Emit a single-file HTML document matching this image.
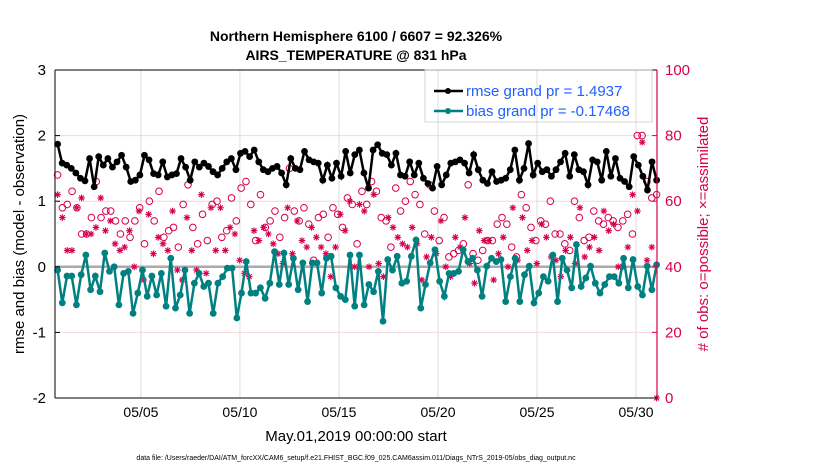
<!DOCTYPE html>
<html><head><meta charset="utf-8"><style>
body{margin:0;background:#fff;font-family:"Liberation Sans",sans-serif}
svg text{font-family:"Liberation Sans",sans-serif}
</style></head><body>
<svg id="c" width="830" height="470" viewBox="0 0 830 470" xmlns="http://www.w3.org/2000/svg">
<text x="356" y="41" text-anchor="middle" font-size="14" font-weight="bold">Northern Hemisphere 6100 / 6607 = 92.326%</text>
<text x="356" y="60" text-anchor="middle" font-size="14" font-weight="bold">AIRS_TEMPERATURE @ 831 hPa</text>
<g id="grid"></g>
<g id="marks"></g>
<g id="axes"></g>
<text x="356" y="441" text-anchor="middle" font-size="15">May.01,2019 00:00:00 start</text>
<text transform="translate(24,234) rotate(-90)" text-anchor="middle" font-size="15">rmse and bias (model - observation)</text>
<text transform="translate(708,234) rotate(-90)" text-anchor="middle" font-size="15" fill="#d6004f"># of obs: o=possible; ×=assimilated</text>
<text x="356" y="460" text-anchor="middle" font-size="7">data file: /Users/raeder/DAI/ATM_forcXX/CAM6_setup/f.e21.FHIST_BGC.f09_025.CAM6assim.011/Diags_NTrS_2019-05/obs_diag_output.nc</text>
<g>
<rect x="425" y="70" width="227" height="52" fill="none" stroke="#ccc" stroke-width="0.8"/>
<line x1="434" y1="91" x2="463" y2="91" stroke="#000" stroke-width="2.5"/>
<circle cx="448" cy="91" r="3" fill="#000"/>
<text x="466" y="96" font-size="15" fill="#1f5fff">rmse grand pr = 1.4937</text>
<line x1="434" y1="111" x2="463" y2="111" stroke="#008080" stroke-width="2.5"/>
<circle cx="448" cy="111" r="3" fill="#008080"/>
<text x="466" y="116" font-size="15" fill="#1f5fff">bias grand pr = -0.17468</text>
</g>
</svg>
<script>
const rmse=[1.87,1.58,1.55,1.50,1.43,1.35,1.31,1.65,1.22,1.68,1.55,1.65,1.52,1.60,1.70,1.52,1.30,1.32,1.40,1.70,1.63,1.42,1.40,1.60,1.37,1.40,1.42,1.65,1.52,1.32,1.60,1.52,
1.58,1.53,1.45,1.40,1.50,1.60,1.65,1.48,1.73,1.76,1.68,1.78,1.60,1.48,1.45,1.50,1.53,1.43,1.25,1.65,1.50,1.48,1.76,1.63,1.60,1.58,1.32,1.55,1.35,1.58,1.38,1.76,
1.43,1.71,1.78,1.43,1.20,1.78,1.86,1.73,1.71,1.55,1.73,1.40,1.38,1.60,1.40,1.58,1.35,1.27,1.20,1.53,1.25,1.40,1.58,1.60,1.63,1.58,1.43,1.71,1.48,1.32,1.27,1.45,1.30,1.32,1.35,1.48,1.78,
1.32,1.50,1.88,1.40,1.58,1.45,1.48,1.38,1.48,1.60,1.73,1.38,1.71,1.48,1.45,1.25,1.63,1.60,1.32,1.76,1.38,1.65,1.35,1.30,1.22,1.68,1.55,1.38,1.17,1.60,1.32];
const bias=[-0.05,-0.55,-0.14,-0.14,-0.58,-0.12,0.18,-0.35,-0.14,-0.38,0.21,-0.07,0.00,-0.58,-0.10,-0.07,-0.71,-0.40,-0.05,-0.45,-0.14,-0.43,-0.10,-0.60,0.13,-0.63,-0.43,-0.05,-0.71,-0.25,-0.10,-0.30,
-0.25,-0.71,-0.25,-0.15,-0.02,-0.02,-0.78,-0.40,0.08,-0.40,-0.40,-0.32,-0.48,-0.25,0.23,-0.27,0.21,-0.27,0.13,-0.35,0.06,-0.53,0.06,0.06,-0.40,0.13,0.16,-0.32,-0.45,-0.50,0.18,-0.60,
0.18,-0.58,-0.27,-0.38,-0.07,-0.83,0.11,-0.05,0.16,-0.25,-0.22,0.16,0.41,-0.63,-0.27,0.06,0.26,-0.22,-0.45,-0.10,-0.10,-0.07,0.26,0.08,0.13,-0.05,-0.45,0.01,0.13,0.08,0.11,-0.53,-0.15,
0.13,-0.53,-0.12,0.01,-0.55,-0.40,-0.15,-0.22,0.18,-0.53,0.13,-0.05,-0.32,0.34,-0.30,-0.17,0.01,-0.25,-0.40,-0.27,-0.15,-0.15,-0.25,0.13,-0.32,0.11,-0.30,-0.43,0.01,-0.35,0.03];
const possible=[68,58,59,63,58,50,50,55,66,55,57,57,54,50,54,49,54,58,47,60,54,63,49,51,52,46,59,65,52,47,56,48,
59,60,49,51,61,54,64,66,59,48,62,52,54,57,49,55,70,57,54,58,53,42,55,56,49,58,56,52,61,59,47,63,
59,66,63,55,54,46,64,57,60,66,62,59,50,65,57,48,55,43,44,45,47,65,44,42,45,48,48,53,55,53,46,43,62,
58,52,48,54,53,60,50,50,47,45,60,55,48,49,57,54,53,55,54,52,54,56,50,80,80,66,61,62];
const assim=[62,55,45,45,58,61,50,50,52,61,51,54,47,45,46,51,40,57,36,56,44,49,47,45,57,39,36,55,45,39,62,38,
58,45,58,45,52,50,42,38,37,51,48,52,50,47,44,41,58,44,54,48,46,52,49,46,44,37,46,56,51,60,40,59,
57,40,62,41,37,55,52,49,47,46,52,47,36,43,49,44,54,40,37,49,46,55,41,35,51,48,48,36,44,49,40,58,42,
55,45,48,41,53,49,43,42,37,45,49,41,58,43,46,49,45,57,51,53,40,40,46,62,57,78,42,46,0];
const xTickLabels=["05/05","05/10","05/15","05/20","05/25","05/30"];
const xTickDays=[4,9,14,19,24,29];
const yLeftTicks=[-2,-1,0,1,2,3];
const yRightTicks=[0,20,40,60,80,100];

const L=55,R=657,T=70,B=398;
const dayStart=-0.34,dayEnd=30.06;
const xs=d=>L+(d-dayStart)/(dayEnd-dayStart)*(R-L);
const yl=v=>B-(v+2)/5*(B-T);
const yr=v=>B-v/100*(B-T);
const NS="http://www.w3.org/2000/svg";
function mk(tag,attrs,parent){const e=document.createElementNS(NS,tag);for(const k in attrs)e.setAttribute(k,attrs[k]);parent.appendChild(e);return e;}
const grid=document.getElementById('grid'),marks=document.getElementById('marks'),axes=document.getElementById('axes');
const firstDay=-0.21,lastDay=30.04;
const tOf=(i,n)=>firstDay+(lastDay-firstDay)*i/(n-1);

xTickDays.forEach((d,i)=>{
  const g=mk('line',{x1:xs(d),x2:xs(d),y1:T,y2:B,stroke:'#ddd','stroke-width':1},grid);
  
  
  const t=mk('text',{x:xs(d),y:B+19,'text-anchor':'middle','font-size':14},axes);
  t.textContent=xTickLabels[i];
  
  
});
yRightTicks.forEach(v=>{
  if(v>0&&v<100){const g=mk('line',{x1:L,x2:R,y1:yr(v),y2:yr(v),stroke:'#f2d6e0','stroke-width':1},grid);
  
  }
  const t=mk('text',{x:R+8,y:yr(v)+5,'font-size':15,fill:'#d6004f'},axes);
  t.textContent=v;
  
  
  mk('line',{x1:R-5,x2:R,y1:yr(v),y2:yr(v),stroke:'#d6004f'},axes);
});
yLeftTicks.forEach(v=>{
  const t=mk('text',{x:L-9,y:yl(v)+5,'text-anchor':'end','font-size':15},axes);
  t.textContent=v;
  
  
  mk('line',{x1:L,x2:L+5,y1:yl(v),y2:yl(v),stroke:'#000'},axes);
});
const z=mk('line',{x1:L,x2:R,y1:yl(0),y2:yl(0),stroke:'#aaa','stroke-width':2.5},grid);



possible.forEach((v,i)=>{
  const c=mk('circle',{cx:xs(tOf(i,possible.length)),cy:yr(v),r:3.3,fill:'none',stroke:'#d6004f','stroke-width':1},marks);
  
  
});
assim.forEach((v,i)=>{
  const cx=xs(tOf(i,assim.length)),cy=yr(v),s=3.3,d=2.4;
  const p=mk('path',{d:`M${cx-s},${cy}H${cx+s}M${cx},${cy-s}V${cy+s}M${cx-d},${cy-d}L${cx+d},${cy+d}M${cx-d},${cy+d}L${cx+d},${cy-d}`,stroke:'#d6004f','stroke-width':1.1,fill:'none'},marks);
  
  
});
function series(arr,col,name){
  const pts=arr.map((v,i)=>xs(tOf(i,arr.length)).toFixed(1)+','+yl(v).toFixed(1)).join(' ');
  const pl=mk('polyline',{points:pts,fill:'none',stroke:col,'stroke-width':2.5},marks);
  
  
  arr.forEach((v,i)=>{
    const c=mk('circle',{cx:xs(tOf(i,arr.length)),cy:yl(v),r:3.4,fill:col},marks);
    
    
  });
}
series(bias,'#008080','bias');
series(rmse,'#000','rmse');
mk('line',{x1:L,x2:R,y1:T,y2:T,stroke:'#000','stroke-width':1},axes);
mk('line',{x1:L,x2:R,y1:B,y2:B,stroke:'#000','stroke-width':1},axes);
mk('line',{x1:L,x2:L,y1:T,y2:B,stroke:'#000','stroke-width':1},axes);
mk('line',{x1:R,x2:R,y1:T,y2:B,stroke:'#d6004f','stroke-width':1.2},axes);
</script>
</body></html>
